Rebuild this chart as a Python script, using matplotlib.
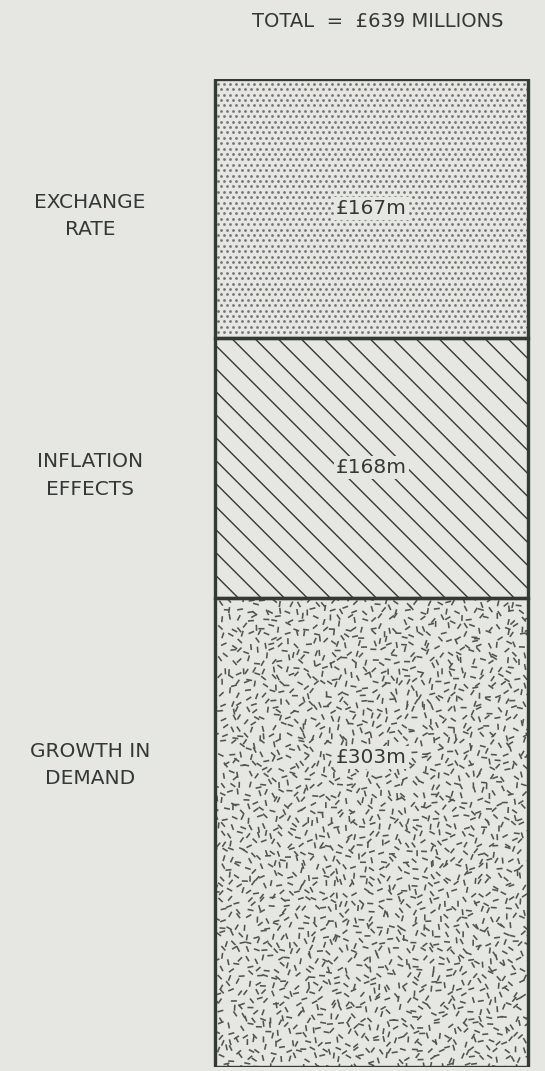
import matplotlib.pyplot as plt
import numpy as np
from matplotlib.collections import LineCollection
from matplotlib.transforms import IdentityTransform, blended_transform_factory

# segments from the bottom of the bar upwards
categories = ["GROWTH IN\nDEMAND", "INFLATION\nEFFECTS", "EXCHANGE\nRATE"]
values = [303, 168, 167]
value_labels = ["£303m", "£168m", "£167m"]
total_label = "TOTAL  =  £639 MILLIONS"

BG = "#e6e6e3"
INK = "#333a34"

plt.rcParams['font.family'] = ['DejaVu Sans']

fig = plt.figure(figsize=(5.45, 10.71), dpi=100)
fig.patch.set_facecolor(BG)
ax = fig.add_axes([0, 4 / 1071, 1, 988 / 1071])
ax.set_facecolor(BG)
ax.set_xlim(-1.187, 0.554)
ax.set_ylim(0, sum(values))
ax.axis('off')

bottoms = np.concatenate([[0], np.cumsum(values)[:-1]])
xpos = [0] * len(values)
bars = ax.bar(xpos, values, bottom=bottoms, width=1,
              color=BG, linewidth=0, zorder=1)
# outlines on top of the textures
ax.bar(xpos, values, bottom=bottoms, width=1, fill=False,
       edgecolor=INK, linewidth=2.4, zorder=3)


def frac(a):
    # cheap deterministic hash in [0, 1) for the texture
    return np.modf(np.abs(np.sin(a) * 43758.5453))[0]


def pixel_box(patch):
    bb = patch.get_window_extent()
    return bb.x0, bb.y0, bb.x1, bb.y1


def dots(patch, step=6.0):
    x0, y0, x1, y1 = pixel_box(patch)
    xs, ys = [], []
    for r, y in enumerate(np.arange(y0, y1 + step, step * 0.9)):
        off = (r % 2) * step / 2
        for x in np.arange(x0 + off, x1 + step, step):
            xs.append(x)
            ys.append(y)
    ln, = ax.plot(xs, ys, 'o', ms=2.0, mew=0, color="#737673",
                  transform=IdentityTransform(), zorder=2)
    ln.set_clip_path(patch)


def diagonals(patch, step=23.0):
    x0, y0, x1, y1 = pixel_box(patch)
    h = y1 - y0
    segs = []
    for c in np.arange(x0 - h, x1 + step, step):
        segs.append([(c, y1), (c + h, y0)])
    lc = LineCollection(segs, colors=INK, linewidths=1.0,
                        transform=IdentityTransform(), zorder=2)
    ax.add_collection(lc)
    lc.set_clip_path(patch)


def dashes(patch, step=8.3, length=6.0):
    x0, y0, x1, y1 = pixel_box(patch)
    segs = []
    for i, x in enumerate(np.arange(x0, x1 + step, step)):
        for j, y in enumerate(np.arange(y0, y1 + step, step)):
            cx = x + (frac(i * 12.9898 + j * 78.233) - 0.5) * step * 0.9
            cy = y + (frac(i * 39.346 + j * 11.135) - 0.5) * step * 0.9
            ang = frac(i * 73.156 + j * 52.235) * np.pi
            dx, dy = np.cos(ang) * length / 2, np.sin(ang) * length / 2
            segs.append([(cx - dx, cy - dy), (cx + dx, cy + dy)])
    lc = LineCollection(segs, colors="#4f554f", linewidths=1.15,
                        transform=IdentityTransform(), zorder=2)
    ax.add_collection(lc)
    lc.set_clip_path(patch)


dashes(bars[0])
diagonals(bars[1])
dots(bars[2])

# label height inside each segment, as a share of the segment
label_pos = [0.66, 0.5, 0.5]
left_tr = blended_transform_factory(ax.transAxes, ax.transData)
for b, v, cat, lab, p in zip(bottoms, values, categories, value_labels, label_pos):
    y = b + v * p
    ax.text(0, y, lab, ha='center', va='center', fontsize=14.5, color=INK, zorder=5,
            bbox=dict(facecolor=BG, edgecolor='none', pad=1.5))
    ax.text(90 / 545, y - 5, cat, transform=left_tr, ha='center', va='center',
            fontsize=14.5, color=INK, linespacing=1.55)

top_tr = blended_transform_factory(ax.transData, fig.transFigure)
ax.text(0.02, 1 - 21.5 / 1071, total_label, transform=top_tr, ha='center',
        va='center', fontsize=14, color=INK)

plt.savefig("out.png", dpi=100, facecolor=BG)
